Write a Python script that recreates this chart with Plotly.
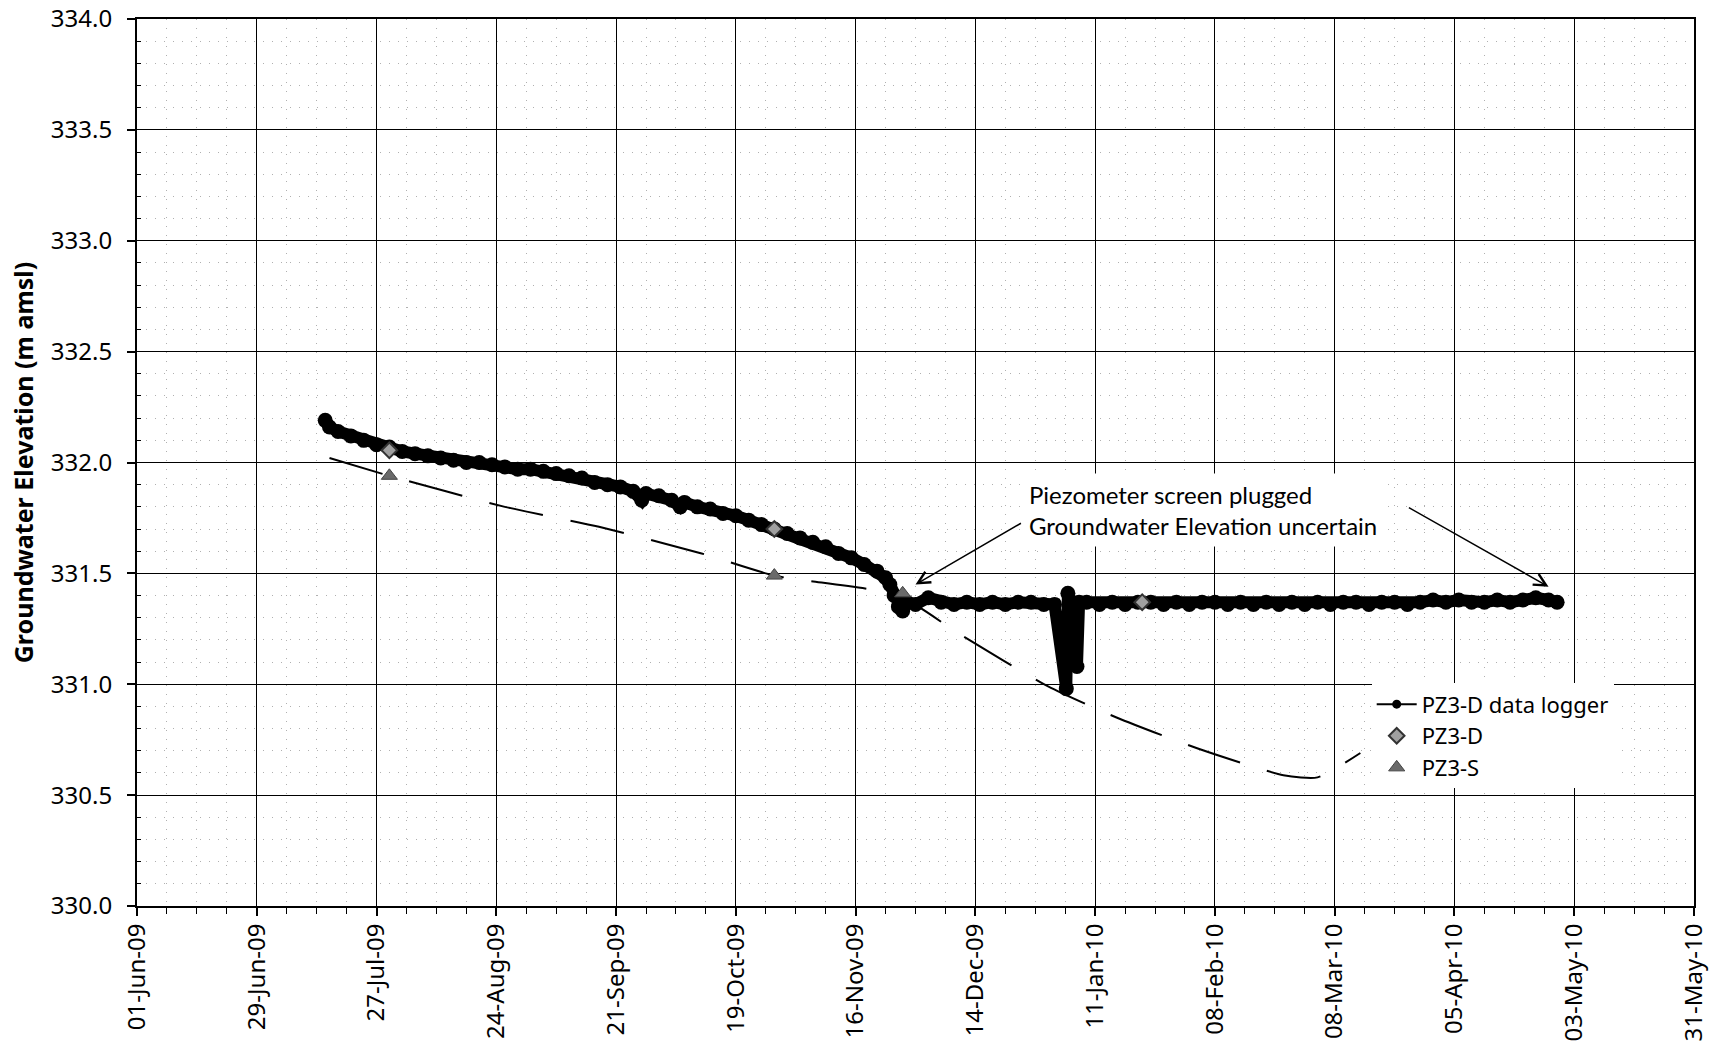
import plotly.graph_objects as go
import pandas as pd

# ---------------- data ----------------
logger_dates = [
    "2009-07-15", "2009-07-16", "2009-07-18", "2009-07-21", "2009-07-24", "2009-07-27", "2009-07-30",
    "2009-08-02", "2009-08-05", "2009-08-08", "2009-08-11", "2009-08-14", "2009-08-17", "2009-08-20",
    "2009-08-23", "2009-08-26", "2009-08-29", "2009-09-01", "2009-09-04", "2009-09-07", "2009-09-10",
    "2009-09-13", "2009-09-16", "2009-09-19", "2009-09-22", "2009-09-25", "2009-09-27", "2009-09-28",
    "2009-10-01", "2009-10-04", "2009-10-06", "2009-10-07", "2009-10-10", "2009-10-13", "2009-10-16",
    "2009-10-19", "2009-10-22", "2009-10-25", "2009-10-28", "2009-10-31", "2009-11-03", "2009-11-06",
    "2009-11-09", "2009-11-12", "2009-11-15", "2009-11-18", "2009-11-21", "2009-11-23", "2009-11-24",
    "2009-11-25", "2009-11-26", "2009-11-27", "2009-11-28", "2009-11-30", "2009-12-03", "2009-12-06",
    "2009-12-09", "2009-12-12", "2009-12-15", "2009-12-18", "2009-12-21", "2009-12-24", "2009-12-27",
    "2009-12-30", "2010-01-01 12:00", "2010-01-04 06:00", "2010-01-04 15:00", "2010-01-05 12:00",
    "2010-01-06 18:00", "2010-01-07 06:00",
    "2010-01-09", "2010-01-12", "2010-01-15", "2010-01-18", "2010-01-21", "2010-01-24", "2010-01-27",
    "2010-01-30", "2010-02-02", "2010-02-05", "2010-02-08", "2010-02-11", "2010-02-14", "2010-02-17",
    "2010-02-20", "2010-02-23", "2010-02-26", "2010-03-01", "2010-03-04", "2010-03-07", "2010-03-10",
    "2010-03-13", "2010-03-16", "2010-03-19", "2010-03-22", "2010-03-25", "2010-03-28", "2010-03-31",
    "2010-04-03", "2010-04-06", "2010-04-09", "2010-04-12", "2010-04-15", "2010-04-18", "2010-04-21",
    "2010-04-24", "2010-04-27", "2010-04-29",
]
logger_values = [
    332.19, 332.16, 332.14, 332.12, 332.10, 332.08, 332.07,
    332.05, 332.04, 332.03, 332.02, 332.01, 332.00, 332.00,
    331.99, 331.98, 331.97, 331.97, 331.96, 331.95, 331.94,
    331.93, 331.91, 331.90, 331.89, 331.87, 331.83, 331.86,
    331.85, 331.83, 331.80, 331.82, 331.80, 331.79, 331.77,
    331.76, 331.74, 331.72, 331.70, 331.68, 331.66, 331.64,
    331.62, 331.59, 331.57, 331.54, 331.51, 331.48, 331.45,
    331.40, 331.35, 331.33, 331.37, 331.36, 331.39, 331.37,
    331.36, 331.37, 331.36, 331.37, 331.36, 331.37, 331.37,
    331.36, 331.36, 330.98, 331.41, 331.37,
    331.08, 331.37,
    331.37, 331.36, 331.37, 331.36, 331.37, 331.37, 331.36,
    331.37, 331.36, 331.37, 331.37, 331.36, 331.37, 331.36,
    331.37, 331.36, 331.37, 331.36, 331.37, 331.36, 331.37,
    331.37, 331.36, 331.37, 331.37, 331.36, 331.37, 331.38,
    331.37, 331.38, 331.37, 331.37, 331.38, 331.37, 331.38,
    331.39, 331.38, 331.37,
]

pz3d_dates = ["2009-07-30", "2009-10-28", "2010-01-22"]
pz3d_values = [332.055, 331.70, 331.37]

pz3s_dates = ["2009-07-30", "2009-10-28", "2009-11-27"]
pz3s_values = [331.94, 331.49, 331.41]

trend_dates = ["2009-07-16", "2009-07-30", "2009-08-26", "2009-09-17", "2009-10-11", "2009-10-28",
               "2009-11-26", "2009-12-10", "2009-12-31", "2010-01-16", "2010-02-04", "2010-02-24",
               "2010-03-04", "2010-03-14"]
trend_values = [332.02, 331.94, 331.80, 331.71, 331.59, 331.49,
                331.40, 331.23, 330.99, 330.85, 330.71, 330.59,
                330.58, 330.69]

x_tick_dates = ["2009-06-01", "2009-06-29", "2009-07-27", "2009-08-24", "2009-09-21", "2009-10-19",
                "2009-11-16", "2009-12-14", "2010-01-11", "2010-02-08", "2010-03-08", "2010-04-05",
                "2010-05-03", "2010-05-31"]
y_ticks = [330.0, 330.5, 331.0, 331.5, 332.0, 332.5, 333.0, 333.5, 334.0]

annotation_text = "Piezometer screen plugged<br>Groundwater Elevation uncertain"


def to_dt(lst):
    return pd.to_datetime(lst, format="mixed")


def ms(d):
    return pd.Timestamp(d).value / 1e6


# ---------------- figure ----------------
TICK_FONT = "Noto Sans, DejaVu Sans, sans-serif"
fig = go.Figure()

# dashed trend line
fig.add_trace(go.Scatter(
    x=to_dt(trend_dates), y=trend_values, mode="lines",
    line=dict(color="black", width=2, dash="55px,28px", shape="spline", smoothing=0.6),
    showlegend=False, hoverinfo="skip"))

# data logger (thick band)
fig.add_trace(go.Scatter(
    x=to_dt(logger_dates), y=logger_values, mode="lines+markers",
    line=dict(color="black", width=12),
    marker=dict(symbol="circle", size=15, color="black"),
    showlegend=False))

# legend proxy for data logger
fig.add_trace(go.Scatter(
    x=[None], y=[None], mode="lines+markers", name="PZ3-D data logger",
    line=dict(color="black", width=2), marker=dict(symbol="circle", size=9, color="black")))

fig.add_trace(go.Scatter(
    x=to_dt(pz3d_dates), y=pz3d_values, mode="markers", name="PZ3-D",
    marker=dict(symbol="diamond", size=12, color="#a0a0a0", line=dict(color="#333333", width=2))))

fig.add_trace(go.Scatter(
    x=to_dt(pz3s_dates), y=pz3s_values, mode="markers", name="PZ3-S",
    marker=dict(symbol="triangle-up", size=14, color="#6a6a6a", line=dict(color="#444444", width=1))))

# annotation text box
fig.add_annotation(
    x=ms("2009-12-25"), y=331.785, xref="x", yref="y",
    text=annotation_text, showarrow=False, xanchor="left", yanchor="middle", align="left",
    font=dict(family="Lato, Open Sans, sans-serif", size=24, color="black"),
    bgcolor="white", borderpad=6)

# arrows
for tail_d, tail_v, head_d, head_v in [
    ("2009-12-25", 331.73, "2009-11-30", 331.45),
    ("2010-03-25", 331.80, "2010-04-27", 331.44),
]:
    fig.add_annotation(
        x=ms(head_d), y=head_v, ax=ms(tail_d), ay=tail_v,
        xref="x", yref="y", axref="x", ayref="y", text="", showarrow=True,
        arrowhead=5, arrowsize=1.6, arrowwidth=1.5, arrowcolor="black")

day_ms = 86400000
fig.update_xaxes(
    range=[ms("2009-06-01"), ms("2010-05-31")],
    tickmode="array", tickvals=to_dt(x_tick_dates),
    ticktext=[pd.Timestamp(d).strftime("%d-%b-%y") for d in x_tick_dates],
    tickangle=-90, tickfont=dict(family=TICK_FONT, size=24, color="black"),
    ticks="outside", ticklen=8, tickwidth=1.5, tickcolor="black", ticklabelstandoff=-2,
    ticklabeloverflow="allow",
    showline=True, linecolor="black", linewidth=2, mirror=True,
    showgrid=True, gridcolor="black", gridwidth=1,
    minor=dict(tick0="2009-06-01", dtick=7 * day_ms, ticks="outside", ticklen=6, tickwidth=1,
               tickcolor="black", showgrid=True, gridcolor="#b0b0b0", gridwidth=1, griddash="1px,8px"),
    zeroline=False, automargin=False,
)
fig.update_yaxes(
    range=[329.9999, 334.0001], tickmode="array", tickvals=y_ticks,
    ticktext=[f"{v:.1f}" for v in y_ticks],
    tickfont=dict(family=TICK_FONT, size=24, color="black"),
    ticks="outside", ticklen=8, tickwidth=1.5, tickcolor="black", ticklabelstandoff=10,
    ticklabeloverflow="allow",
    showline=True, linecolor="black", linewidth=2, mirror=True,
    showgrid=True, gridcolor="black", gridwidth=1,
    minor=dict(tickvals=[330 + 0.1 * i for i in range(41) if i % 5], ticks="inside", ticklen=4,
               tickwidth=1, tickcolor="black",
               showgrid=True, gridcolor="#b0b0b0", gridwidth=1, griddash="1px,8px"),
    title=dict(text="<b>Groundwater Elevation (m amsl)</b>",
               font=dict(family=TICK_FONT, size=25, color="black"), standoff=10),
    zeroline=False, automargin=False,
)

fig.update_layout(
    width=1714, height=1045,
    margin=dict(l=137, r=20, t=19, b=139),
    plot_bgcolor="white", paper_bgcolor="white",
    showlegend=True,
    legend=dict(x=0.793, y=0.251, xanchor="left", yanchor="top",
                bgcolor="white", borderwidth=0, tracegroupgap=0,
                font=dict(family=TICK_FONT, size=22, color="black"), itemwidth=40),
)

fig.write_html("out.html", config={"displayModeBar": False},
               post_script="document.body.style.margin='0';")
